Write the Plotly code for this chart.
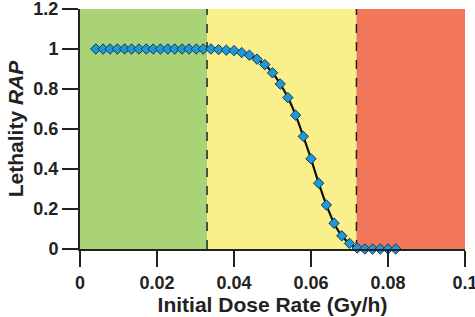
import plotly.graph_objects as go

# Data
dose_rate = [0.0041, 0.0060, 0.0078, 0.0097, 0.0116, 0.0134, 0.0153, 0.0172,
             0.0190, 0.0209, 0.0228, 0.0246, 0.0265, 0.0283, 0.0302, 0.0320,
             0.034, 0.036, 0.038, 0.040, 0.042, 0.044, 0.046, 0.048, 0.050,
             0.052, 0.054, 0.056, 0.058, 0.060, 0.062, 0.064, 0.066, 0.068,
             0.070, 0.072, 0.074, 0.076, 0.078, 0.080, 0.082]
lethality = [1.0] * 16 + [1.0, 0.997, 0.994, 0.992, 0.982, 0.969, 0.949, 0.922,
                          0.881, 0.825, 0.757, 0.669, 0.563, 0.451, 0.329, 0.220,
                          0.129, 0.066, 0.028, 0.005, 0.0, 0.0, 0.0, 0.0, 0.0]

zone_edges = [0.0, 0.033, 0.0718, 0.1]
zone_colors = ["#aad277", "#f9f08b", "#f27659"]
y_range = [0, 1.2]
x_ticks = [0, 0.02, 0.04, 0.06, 0.08, 0.1]
x_tick_text = ["0", "0.02", "0.04", "0.06", "0.08", "0.1"]
y_ticks = [0, 0.2, 0.4, 0.6, 0.8, 1.0, 1.2]
y_tick_text = ["0", "0.2", "0.4", "0.6", "0.8", "1", "1.2"]

fig = go.Figure()

shapes = []
for i, c in enumerate(zone_colors):
    shapes.append(dict(type="rect", xref="x", yref="y", x0=zone_edges[i], x1=zone_edges[i + 1],
                       y0=y_range[0], y1=y_range[1], fillcolor=c, line=dict(width=0), layer="below"))
for xe in zone_edges[1:3]:
    shapes.append(dict(type="line", xref="x", yref="y", x0=xe, x1=xe, y0=y_range[0], y1=y_range[1],
                       line=dict(color="#222222", width=1.5, dash="dash"), layer="below"))

fig.add_trace(go.Scatter(
    x=dose_rate, y=lethality, mode="lines+markers",
    line=dict(color="#111111", width=2.2, shape="spline"),
    marker=dict(symbol="diamond", size=8, color="#1d9ad6", line=dict(color="#15365a", width=1)),
    showlegend=False, cliponaxis=False,
))

font_family = "Liberation Sans, Arial, sans-serif"
fig.update_layout(
    width=475, height=317,
    margin=dict(l=80, r=10, t=9, b=68),
    paper_bgcolor="white", plot_bgcolor="white",
    shapes=shapes,
    font=dict(family=font_family, size=18, color="#222222"),
    xaxis=dict(range=[0, 0.1], tickvals=x_ticks, ticktext=x_tick_text, automargin=False,
               ticklabeloverflow="allow",
               showgrid=False, zeroline=False, showline=True, linecolor="#222222", linewidth=2,
               ticks="outside", ticklen=16, tickwidth=2, tickcolor="#222222",
               tickfont=dict(family=font_family, size=18, weight="bold"),
               title=dict(text="<b>Initial Dose Rate (Gy/h)</b>", standoff=4,
                          font=dict(family=font_family, size=21))),
    yaxis=dict(range=[0, 1.2], tickvals=y_ticks, ticktext=y_tick_text, automargin=False,
               ticklabeloverflow="allow",
               showgrid=False, zeroline=False, showline=True, linecolor="#222222", linewidth=2,
               ticks="outside", ticklen=16, tickwidth=2, tickcolor="#222222",
               tickfont=dict(family=font_family, size=18, weight="bold"),
               title=dict(text="<b>Lethality <i>RAP</i></b>", standoff=4,
                          font=dict(family=font_family, size=21))),
)

fig.write_html("out.html", config={"displayModeBar": False},
               post_script="document.body.style.margin='0';")
